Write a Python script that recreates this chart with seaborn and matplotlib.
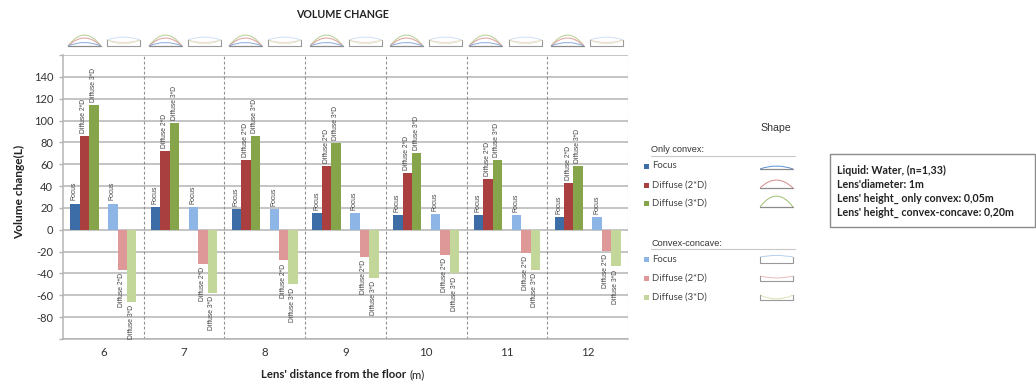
import matplotlib
matplotlib.use("Agg")
import matplotlib.pyplot as plt
from matplotlib.path import Path
from matplotlib.patches import PathPatch, Rectangle
import pandas as pd
import seaborn as sns

distances = ["6", "7", "8", "9", "10", "11", "12"]
convex_focus = [24, 20.5, 19, 15.5, 13.5, 13.5, 11.5]
convex_diffuse_2d = [86, 72.5, 64, 58, 52, 46.5, 43]
convex_diffuse_3d = [114, 98, 86, 79, 70, 64, 58]
concave_focus = [24, 20.5, 19, 15.5, 14, 13.5, 11.5]
concave_diffuse_2d = [-37, -31, -28, -24.5, -23, -21, -19]
concave_diffuse_3d = [-66, -58, -50, -44, -40, -37, -33.5]
y_ticks = [-80, -60, -40, -20, 0, 20, 40, 60, 80, 100, 120, 140]

series_names = ["c_focus", "c_2d", "c_3d", "blank", "cc_focus", "cc_2d", "cc_3d"]
series_values = [convex_focus, convex_diffuse_2d, convex_diffuse_3d, None,
                 concave_focus, concave_diffuse_2d, concave_diffuse_3d]
bar_labels = ["Focus", "Diffuse 2*D", "Diffuse 3*D", "",
              "Focus", "Diffuse 2*D", "Diffuse 3*D"]
palette = {"c_focus": "#3c6da6", "c_2d": "#aa3f3f", "c_3d": "#86a449", "blank": "#ffffff",
           "cc_focus": "#8db5e5", "cc_2d": "#de9898", "cc_3d": "#c3d79a"}

rows = [{"distance": d, "series": n, "value": v}
        for n, vals in zip(series_names, series_values) if vals is not None
        for d, v in zip(distances, vals)]
df = pd.DataFrame(rows)

W, H = 1036, 383
sns.set_theme(style="white")
plt.rcParams["font.family"] = ["Lato", "DejaVu Sans"]
fig = plt.figure(figsize=(W / 100, H / 100), dpi=100)
GRID = "#b4b4b4"
ax = fig.add_axes([63 / W, 1 - 339 / H, (628 - 63) / W, (339 - 55) / H])
sns.barplot(data=df, x="distance", y="value", hue="series", order=distances,
            hue_order=series_names, palette=palette, width=0.82, gap=0,
            dodge=True, saturation=1, legend=False, ax=ax, zorder=3,
            linewidth=0, edgecolor="none")
ax.set_xlim(-0.5, 6.5)
ax.set_ylim(-100, 160)
ax.set_yticks(y_ticks + [-100, 160])
ax.set_yticklabels([str(t) for t in y_ticks] + ["", ""], fontsize=8, color="#333333")
ax.set_xticks(range(len(distances)))
ax.set_xticklabels(distances, fontsize=8.3, color="#333333")
ax.tick_params(axis="x", length=0, pad=6)
ax.tick_params(axis="y", length=3, width=1, color=GRID, pad=4, left=True)
ax.set_xlabel("")
ax.set_ylabel("")
ax.grid(axis="y", color=GRID, lw=1.1, zorder=0)
ax.set_axisbelow(True)
for b in range(1, len(distances) + 1):
    ax.axvline(b - 0.5, color="#8f8f8f", lw=0.8, ls=(0, (2.5, 2)), zorder=1)
for side in ("top", "right"):
    ax.spines[side].set_visible(False)
for side in ("left", "bottom"):
    ax.spines[side].set_color(GRID)
    ax.spines[side].set_linewidth(1.1)

slot = 0.82 / 7
for rect in ax.patches:
    h = rect.get_height()
    if h != h or h == 0:
        continue
    cx = rect.get_x() + rect.get_width() / 2
    idx = int(round((cx - round(cx) + 3 * slot) / slot))
    ax.annotate(bar_labels[idx], (cx, h), xytext=(-0.4, 2.2 if h > 0 else -2.2),
                textcoords="offset points", rotation=90, ha="center",
                va="bottom" if h > 0 else "top", fontsize=4.9,
                family="Liberation Sans", color="#444444", zorder=5)

# Overlay in pixel coordinates for annotations, legend and lens icons
ov = fig.add_axes([0, 0, 1, 1], facecolor="none")
ov.set_xlim(0, W)
ov.set_ylim(H, 0)
ov.axis("off")


def arc(x0, x1, y, rise, color, lw=0.7):
    mid = (x0 + x1) / 2
    path = Path([(x0, y), (mid, y - 2 * rise), (x1, y)], [Path.MOVETO, Path.CURVE3, Path.CURVE3])
    ov.add_patch(PathPatch(path, fc="none", ec=color, lw=lw))


def convex_icon(x0, x1, y, rises):
    ov.plot([x0, x1], [y, y], color="#8a8a8a", lw=0.9)
    for rise, color in rises:
        arc(x0, x1, y, rise, color)


def concave_icon(x0, x1, y, h, arcs):
    ov.plot([x0, x0, x1, x1], [y - h, y, y, y - h], color="#999999", lw=0.8)
    for rise, color in arcs:
        arc(x0, x1, y - h, rise, color, lw=0.6)


for x0 in [68, 149, 229, 310, 390, 469, 551]:
    convex_icon(x0, x0 + 33, 46, [(11, "#b5cd8e"), (8, "#dc9d9d"), (3.5, "#86abdc")])
for x0 in [107, 188, 268, 349, 429, 509, 590]:
    concave_icon(x0, x0 + 33, 46, 6, [(3, "#c8dcf2"), (-2.5, "#efcdcd"), (-4, "#dde8c3")])

ov.text(343, 15, "VOLUME CHANGE", fontsize=7.7, fontweight="bold", ha="center", va="center", color="#222222")
ov.text(20, 192, "Volume change(L)", fontsize=8.6, fontweight="bold", rotation=90, ha="center", va="center", color="#222222")
ov.text(261, 375, "Lens' distance from the floor", fontsize=8.2, fontweight="bold", ha="left", va="center", color="#222222")
ov.text(409, 375, "(m)", fontsize=8.2, ha="left", va="center", color="#222222")

LEG = "Liberation Sans"
ov.text(776, 128, "Shape", fontsize=7.6, family=LEG, ha="center", va="center", color="#333333")
for y, title in [(150, "Only convex:"), (243, "Convex-concave:")]:
    ov.text(651, y, title, fontsize=6.6, family=LEG, ha="left", va="center", color="#333333")
    ov.plot([651, 795], [y + 5.5, y + 5.5], color="#c8c8c8", lw=0.8)

legend_text = ["Focus", "Diffuse (2*D)", "Diffuse (3*D)"]
for ys, keys in [((166, 185, 203), ("c_focus", "c_2d", "c_3d")),
                 ((259, 278, 297), ("cc_focus", "cc_2d", "cc_3d"))]:
    for y, key, name in zip(ys, keys, legend_text):
        ov.add_patch(Rectangle((644, y - 2.5), 5.2, 5.2, fc=palette[key], ec="none"))
        ov.text(652, y, name, fontsize=6.8, ha="left", va="center", color="#444444")

convex_icon(760, 793, 169, [(3, "#5b8fd0")])
convex_icon(760, 793, 188, [(8, "#d68a8a")])
convex_icon(760, 793, 207, [(11, "#9dbd70")])
concave_icon(760, 793, 263, 6, [(1.5, "#a9c9ee")])
concave_icon(760, 793, 281, 5, [(-2, "#e6b0b0")])
concave_icon(760, 793, 300, 5, [(-4, "#cfe0a8")])

ov.add_patch(Rectangle((829.5, 154), 205, 73, fc="white", ec="#8c8c8c", lw=1.0))
info = ["Liquid: Water, (n=1,33)", "Lens'diameter: 1m",
        "Lens' height_ only convex: 0,05m", "Lens' height_ convex-concave: 0,20m"]
for y, line in zip([170, 184, 198, 212], info):
    ov.text(837, y, line, fontsize=7.7, fontweight="bold", ha="left", va="center", color="#222222")

fig.savefig("out.png", dpi=100, facecolor="white")
